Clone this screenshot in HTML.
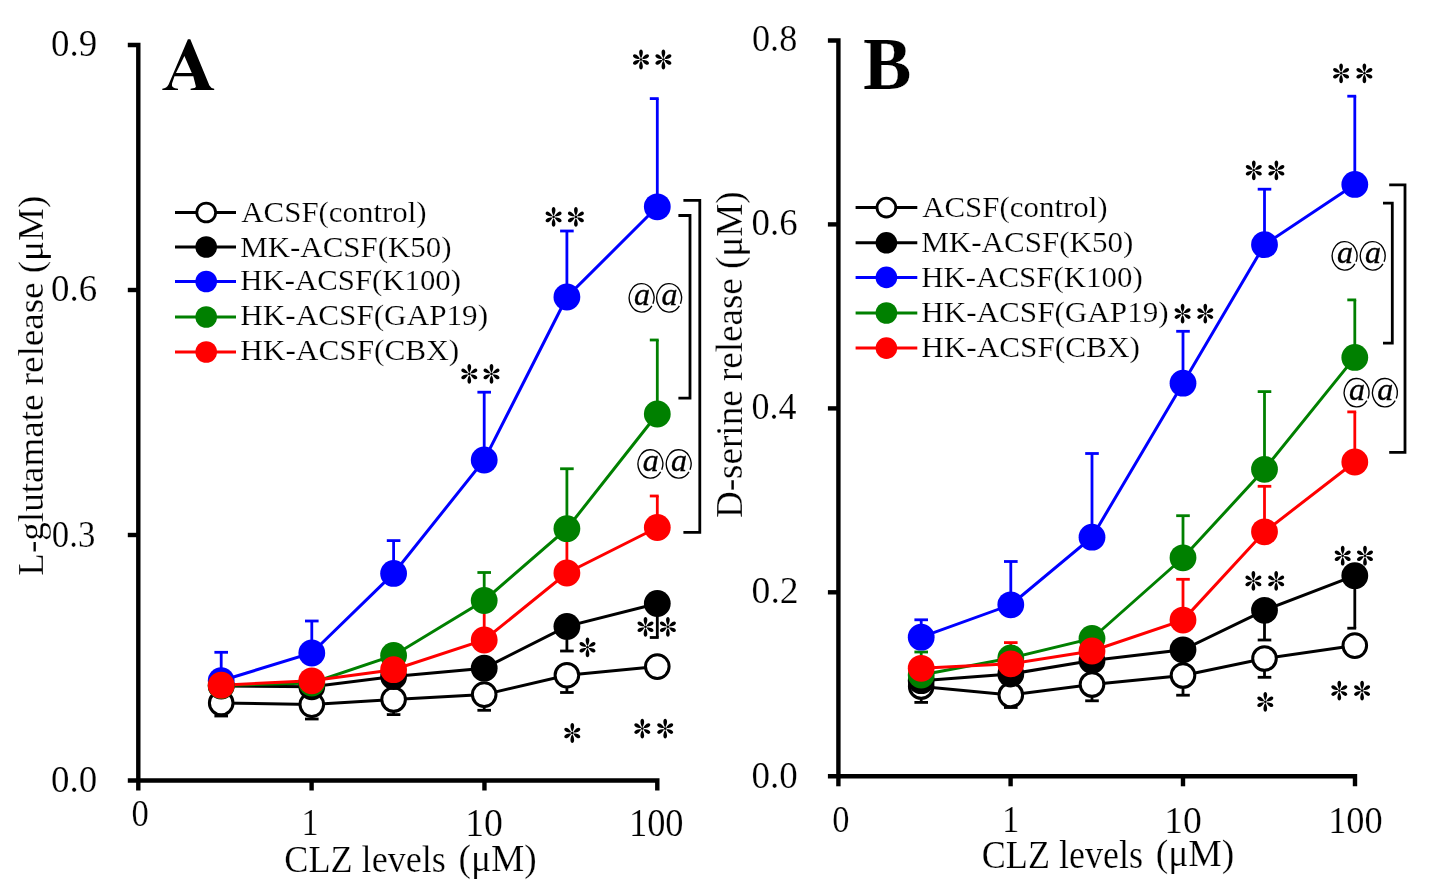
<!DOCTYPE html>
<html><head><meta charset="utf-8"><style>html,body{margin:0;padding:0;background:#fff;overflow:hidden}svg{display:block;will-change:transform}</style></head>
<body><svg width="1435" height="896" viewBox="0 0 1435 896">
<rect width="1435" height="896" fill="#fff"/>
<path d="M127.80000000000001,45 H138.3 V780.5" fill="none" stroke="#000" stroke-width="4.4" stroke-linejoin="miter"/>
<path d="M127.80000000000001,780.5 H657.3 V790.5" fill="none" stroke="#000" stroke-width="4.4"/>
<line x1="127.80000000000001" y1="290" x2="138.3" y2="290" stroke="#000" stroke-width="4.4"/>
<line x1="127.80000000000001" y1="535" x2="138.3" y2="535" stroke="#000" stroke-width="4.4"/>
<line x1="138.3" y1="780.5" x2="138.3" y2="790.5" stroke="#000" stroke-width="4.4"/>
<line x1="311.6" y1="780.5" x2="311.6" y2="790.5" stroke="#000" stroke-width="4.4"/>
<line x1="484.45" y1="780.5" x2="484.45" y2="790.5" stroke="#000" stroke-width="4.4"/>
<line x1="175" y1="212.5" x2="236" y2="212.5" stroke="#000000" stroke-width="3"/>
<circle cx="206.2" cy="212.5" r="9.4" fill="#fff" stroke="#000" stroke-width="2.8"/>
<line x1="175" y1="247" x2="236" y2="247" stroke="#000000" stroke-width="3"/>
<circle cx="206.2" cy="247" r="10.8" fill="#000000"/>
<line x1="175" y1="281.5" x2="236" y2="281.5" stroke="#0000ff" stroke-width="3"/>
<circle cx="206.2" cy="281.5" r="10.8" fill="#0000ff"/>
<line x1="175" y1="317" x2="236" y2="317" stroke="#008000" stroke-width="3"/>
<circle cx="206.2" cy="317" r="10.8" fill="#008000"/>
<line x1="175" y1="352" x2="236" y2="352" stroke="#ff0000" stroke-width="3"/>
<circle cx="206.2" cy="352" r="10.8" fill="#ff0000"/>
<line x1="221.2" y1="703" x2="221.2" y2="716" stroke="#000000" stroke-width="2.8"/>
<line x1="214.39999999999998" y1="716" x2="228.0" y2="716" stroke="#000000" stroke-width="2.8"/>
<line x1="311.8" y1="704.6" x2="311.8" y2="719" stroke="#000000" stroke-width="2.8"/>
<line x1="305.0" y1="719" x2="318.6" y2="719" stroke="#000000" stroke-width="2.8"/>
<line x1="393.6" y1="699.5" x2="393.6" y2="714.6" stroke="#000000" stroke-width="2.8"/>
<line x1="386.8" y1="714.6" x2="400.40000000000003" y2="714.6" stroke="#000000" stroke-width="2.8"/>
<line x1="484.2" y1="694.6" x2="484.2" y2="710.3" stroke="#000000" stroke-width="2.8"/>
<line x1="477.4" y1="710.3" x2="491.0" y2="710.3" stroke="#000000" stroke-width="2.8"/>
<line x1="566.9" y1="675.2" x2="566.9" y2="692.5" stroke="#000000" stroke-width="2.8"/>
<line x1="560.1" y1="692.5" x2="573.6999999999999" y2="692.5" stroke="#000000" stroke-width="2.8"/>
<line x1="566.9" y1="626.4" x2="566.9" y2="651" stroke="#000000" stroke-width="2.8"/>
<line x1="560.1" y1="651" x2="573.6999999999999" y2="651" stroke="#000000" stroke-width="2.8"/>
<line x1="657.3" y1="603.5" x2="657.3" y2="637.5" stroke="#000000" stroke-width="2.8"/>
<line x1="649.8" y1="637.5" x2="658.6999999999999" y2="637.5" stroke="#000000" stroke-width="2.8"/>
<line x1="221.2" y1="680.7" x2="221.2" y2="652.3" stroke="#0000ff" stroke-width="2.8"/>
<line x1="214.39999999999998" y1="652.3" x2="228.0" y2="652.3" stroke="#0000ff" stroke-width="2.8"/>
<line x1="311.8" y1="653" x2="311.8" y2="621" stroke="#0000ff" stroke-width="2.8"/>
<line x1="305.0" y1="621" x2="318.6" y2="621" stroke="#0000ff" stroke-width="2.8"/>
<line x1="393.6" y1="573.4" x2="393.6" y2="540.6" stroke="#0000ff" stroke-width="2.8"/>
<line x1="386.8" y1="540.6" x2="400.40000000000003" y2="540.6" stroke="#0000ff" stroke-width="2.8"/>
<line x1="484.2" y1="460" x2="484.2" y2="392.2" stroke="#0000ff" stroke-width="2.8"/>
<line x1="477.4" y1="392.2" x2="491.0" y2="392.2" stroke="#0000ff" stroke-width="2.8"/>
<line x1="566.9" y1="297" x2="566.9" y2="231" stroke="#0000ff" stroke-width="2.8"/>
<line x1="560.1" y1="231" x2="573.6999999999999" y2="231" stroke="#0000ff" stroke-width="2.8"/>
<line x1="657.3" y1="206.8" x2="657.3" y2="98.6" stroke="#0000ff" stroke-width="2.8"/>
<line x1="649.8" y1="98.6" x2="658.6999999999999" y2="98.6" stroke="#0000ff" stroke-width="2.8"/>
<line x1="484.2" y1="600.5" x2="484.2" y2="572.5" stroke="#008000" stroke-width="2.8"/>
<line x1="477.4" y1="572.5" x2="491.0" y2="572.5" stroke="#008000" stroke-width="2.8"/>
<line x1="566.9" y1="528.7" x2="566.9" y2="468.75" stroke="#008000" stroke-width="2.8"/>
<line x1="560.1" y1="468.75" x2="573.6999999999999" y2="468.75" stroke="#008000" stroke-width="2.8"/>
<line x1="657.3" y1="414" x2="657.3" y2="340" stroke="#008000" stroke-width="2.8"/>
<line x1="649.8" y1="340" x2="658.6999999999999" y2="340" stroke="#008000" stroke-width="2.8"/>
<line x1="484.2" y1="640" x2="484.2" y2="603" stroke="#ff0000" stroke-width="2.8"/>
<line x1="477.4" y1="603" x2="491.0" y2="603" stroke="#ff0000" stroke-width="2.8"/>
<line x1="566.9" y1="573" x2="566.9" y2="531" stroke="#ff0000" stroke-width="2.8"/>
<line x1="560.1" y1="531" x2="573.6999999999999" y2="531" stroke="#ff0000" stroke-width="2.8"/>
<line x1="657.3" y1="527.5" x2="657.3" y2="496" stroke="#ff0000" stroke-width="2.8"/>
<line x1="649.8" y1="496" x2="658.6999999999999" y2="496" stroke="#ff0000" stroke-width="2.8"/>
<polyline points="221.2,703 311.8,704.6 393.6,699.5 484.2,694.6 566.9,675.2 657.3,666.6" fill="none" stroke="#000000" stroke-width="3"/>
<polyline points="221.2,686 311.8,686.8 393.6,676.6 484.2,668.2 566.9,626.4 657.3,603.5" fill="none" stroke="#000000" stroke-width="3"/>
<polyline points="221.2,680.7 311.8,653 393.6,573.4 484.2,460 566.9,297 657.3,206.8" fill="none" stroke="#0000ff" stroke-width="3"/>
<polyline points="221.2,685.5 311.8,683 393.6,655.5 484.2,600.5 566.9,528.7 657.3,414" fill="none" stroke="#008000" stroke-width="3"/>
<polyline points="221.2,685.2 311.8,680.8 393.6,669.7 484.2,640 566.9,573 657.3,527.5" fill="none" stroke="#ff0000" stroke-width="3"/>
<circle cx="221.2" cy="703" r="11.8" fill="#fff" stroke="#000" stroke-width="3"/>
<circle cx="311.8" cy="704.6" r="11.8" fill="#fff" stroke="#000" stroke-width="3"/>
<circle cx="393.6" cy="699.5" r="11.8" fill="#fff" stroke="#000" stroke-width="3"/>
<circle cx="484.2" cy="694.6" r="11.8" fill="#fff" stroke="#000" stroke-width="3"/>
<circle cx="566.9" cy="675.2" r="11.8" fill="#fff" stroke="#000" stroke-width="3"/>
<circle cx="657.3" cy="666.6" r="11.8" fill="#fff" stroke="#000" stroke-width="3"/>
<circle cx="221.2" cy="686" r="13.4" fill="#000000"/>
<circle cx="311.8" cy="686.8" r="13.4" fill="#000000"/>
<circle cx="393.6" cy="676.6" r="13.4" fill="#000000"/>
<circle cx="484.2" cy="668.2" r="13.4" fill="#000000"/>
<circle cx="566.9" cy="626.4" r="13.4" fill="#000000"/>
<circle cx="657.3" cy="603.5" r="13.4" fill="#000000"/>
<circle cx="221.2" cy="680.7" r="13.4" fill="#0000ff"/>
<circle cx="311.8" cy="653" r="13.4" fill="#0000ff"/>
<circle cx="393.6" cy="573.4" r="13.4" fill="#0000ff"/>
<circle cx="484.2" cy="460" r="13.4" fill="#0000ff"/>
<circle cx="566.9" cy="297" r="13.4" fill="#0000ff"/>
<circle cx="657.3" cy="206.8" r="13.4" fill="#0000ff"/>
<circle cx="221.2" cy="685.5" r="13.4" fill="#008000"/>
<circle cx="311.8" cy="683" r="13.4" fill="#008000"/>
<circle cx="393.6" cy="655.5" r="13.4" fill="#008000"/>
<circle cx="484.2" cy="600.5" r="13.4" fill="#008000"/>
<circle cx="566.9" cy="528.7" r="13.4" fill="#008000"/>
<circle cx="657.3" cy="414" r="13.4" fill="#008000"/>
<circle cx="221.2" cy="685.2" r="13.4" fill="#ff0000"/>
<circle cx="311.8" cy="680.8" r="13.4" fill="#ff0000"/>
<circle cx="393.6" cy="669.7" r="13.4" fill="#ff0000"/>
<circle cx="484.2" cy="640" r="13.4" fill="#ff0000"/>
<circle cx="566.9" cy="573" r="13.4" fill="#ff0000"/>
<circle cx="657.3" cy="527.5" r="13.4" fill="#ff0000"/>
<path d="M683.4,200.3 H699.8 V532.3 H683.4" fill="none" stroke="#000" stroke-width="2.8"/>
<path d="M678.4,215.5 H690 V398.2 H678.4" fill="none" stroke="#000" stroke-width="2.8"/>
<g transform="translate(641,59.5)" fill="#000"><path transform="rotate(0)" d="M0,-1.3 C-0.8,-2.3 -1.8,-4.75 -1.85,-6.93 C-1.9,-8.91 -0.9,-9.90 0,-9.90 C0.9,-9.90 1.9,-8.91 1.85,-6.93 C1.8,-4.75 0.8,-2.3 0,-1.3Z"/><path transform="rotate(60)" d="M0,-1.3 C-0.8,-2.3 -1.8,-4.32 -1.85,-6.30 C-1.9,-8.10 -0.9,-9.00 0,-9.00 C0.9,-9.00 1.9,-8.10 1.85,-6.30 C1.8,-4.32 0.8,-2.3 0,-1.3Z"/><path transform="rotate(120)" d="M0,-1.3 C-0.8,-2.3 -1.8,-4.32 -1.85,-6.30 C-1.9,-8.10 -0.9,-9.00 0,-9.00 C0.9,-9.00 1.9,-8.10 1.85,-6.30 C1.8,-4.32 0.8,-2.3 0,-1.3Z"/><path transform="rotate(180)" d="M0,-1.3 C-0.8,-2.3 -1.8,-4.75 -1.85,-6.93 C-1.9,-8.91 -0.9,-9.90 0,-9.90 C0.9,-9.90 1.9,-8.91 1.85,-6.93 C1.8,-4.75 0.8,-2.3 0,-1.3Z"/><path transform="rotate(240)" d="M0,-1.3 C-0.8,-2.3 -1.8,-4.32 -1.85,-6.30 C-1.9,-8.10 -0.9,-9.00 0,-9.00 C0.9,-9.00 1.9,-8.10 1.85,-6.30 C1.8,-4.32 0.8,-2.3 0,-1.3Z"/><path transform="rotate(300)" d="M0,-1.3 C-0.8,-2.3 -1.8,-4.32 -1.85,-6.30 C-1.9,-8.10 -0.9,-9.00 0,-9.00 C0.9,-9.00 1.9,-8.10 1.85,-6.30 C1.8,-4.32 0.8,-2.3 0,-1.3Z"/><circle r="1.3"/></g>
<g transform="translate(663.4,59.5)" fill="#000"><path transform="rotate(0)" d="M0,-1.3 C-0.8,-2.3 -1.8,-4.75 -1.85,-6.93 C-1.9,-8.91 -0.9,-9.90 0,-9.90 C0.9,-9.90 1.9,-8.91 1.85,-6.93 C1.8,-4.75 0.8,-2.3 0,-1.3Z"/><path transform="rotate(60)" d="M0,-1.3 C-0.8,-2.3 -1.8,-4.32 -1.85,-6.30 C-1.9,-8.10 -0.9,-9.00 0,-9.00 C0.9,-9.00 1.9,-8.10 1.85,-6.30 C1.8,-4.32 0.8,-2.3 0,-1.3Z"/><path transform="rotate(120)" d="M0,-1.3 C-0.8,-2.3 -1.8,-4.32 -1.85,-6.30 C-1.9,-8.10 -0.9,-9.00 0,-9.00 C0.9,-9.00 1.9,-8.10 1.85,-6.30 C1.8,-4.32 0.8,-2.3 0,-1.3Z"/><path transform="rotate(180)" d="M0,-1.3 C-0.8,-2.3 -1.8,-4.75 -1.85,-6.93 C-1.9,-8.91 -0.9,-9.90 0,-9.90 C0.9,-9.90 1.9,-8.91 1.85,-6.93 C1.8,-4.75 0.8,-2.3 0,-1.3Z"/><path transform="rotate(240)" d="M0,-1.3 C-0.8,-2.3 -1.8,-4.32 -1.85,-6.30 C-1.9,-8.10 -0.9,-9.00 0,-9.00 C0.9,-9.00 1.9,-8.10 1.85,-6.30 C1.8,-4.32 0.8,-2.3 0,-1.3Z"/><path transform="rotate(300)" d="M0,-1.3 C-0.8,-2.3 -1.8,-4.32 -1.85,-6.30 C-1.9,-8.10 -0.9,-9.00 0,-9.00 C0.9,-9.00 1.9,-8.10 1.85,-6.30 C1.8,-4.32 0.8,-2.3 0,-1.3Z"/><circle r="1.3"/></g>
<g transform="translate(553.6,216.9)" fill="#000"><path transform="rotate(0)" d="M0,-1.3 C-0.8,-2.3 -1.8,-4.75 -1.85,-6.93 C-1.9,-8.91 -0.9,-9.90 0,-9.90 C0.9,-9.90 1.9,-8.91 1.85,-6.93 C1.8,-4.75 0.8,-2.3 0,-1.3Z"/><path transform="rotate(60)" d="M0,-1.3 C-0.8,-2.3 -1.8,-4.32 -1.85,-6.30 C-1.9,-8.10 -0.9,-9.00 0,-9.00 C0.9,-9.00 1.9,-8.10 1.85,-6.30 C1.8,-4.32 0.8,-2.3 0,-1.3Z"/><path transform="rotate(120)" d="M0,-1.3 C-0.8,-2.3 -1.8,-4.32 -1.85,-6.30 C-1.9,-8.10 -0.9,-9.00 0,-9.00 C0.9,-9.00 1.9,-8.10 1.85,-6.30 C1.8,-4.32 0.8,-2.3 0,-1.3Z"/><path transform="rotate(180)" d="M0,-1.3 C-0.8,-2.3 -1.8,-4.75 -1.85,-6.93 C-1.9,-8.91 -0.9,-9.90 0,-9.90 C0.9,-9.90 1.9,-8.91 1.85,-6.93 C1.8,-4.75 0.8,-2.3 0,-1.3Z"/><path transform="rotate(240)" d="M0,-1.3 C-0.8,-2.3 -1.8,-4.32 -1.85,-6.30 C-1.9,-8.10 -0.9,-9.00 0,-9.00 C0.9,-9.00 1.9,-8.10 1.85,-6.30 C1.8,-4.32 0.8,-2.3 0,-1.3Z"/><path transform="rotate(300)" d="M0,-1.3 C-0.8,-2.3 -1.8,-4.32 -1.85,-6.30 C-1.9,-8.10 -0.9,-9.00 0,-9.00 C0.9,-9.00 1.9,-8.10 1.85,-6.30 C1.8,-4.32 0.8,-2.3 0,-1.3Z"/><circle r="1.3"/></g>
<g transform="translate(575.9,216.9)" fill="#000"><path transform="rotate(0)" d="M0,-1.3 C-0.8,-2.3 -1.8,-4.75 -1.85,-6.93 C-1.9,-8.91 -0.9,-9.90 0,-9.90 C0.9,-9.90 1.9,-8.91 1.85,-6.93 C1.8,-4.75 0.8,-2.3 0,-1.3Z"/><path transform="rotate(60)" d="M0,-1.3 C-0.8,-2.3 -1.8,-4.32 -1.85,-6.30 C-1.9,-8.10 -0.9,-9.00 0,-9.00 C0.9,-9.00 1.9,-8.10 1.85,-6.30 C1.8,-4.32 0.8,-2.3 0,-1.3Z"/><path transform="rotate(120)" d="M0,-1.3 C-0.8,-2.3 -1.8,-4.32 -1.85,-6.30 C-1.9,-8.10 -0.9,-9.00 0,-9.00 C0.9,-9.00 1.9,-8.10 1.85,-6.30 C1.8,-4.32 0.8,-2.3 0,-1.3Z"/><path transform="rotate(180)" d="M0,-1.3 C-0.8,-2.3 -1.8,-4.75 -1.85,-6.93 C-1.9,-8.91 -0.9,-9.90 0,-9.90 C0.9,-9.90 1.9,-8.91 1.85,-6.93 C1.8,-4.75 0.8,-2.3 0,-1.3Z"/><path transform="rotate(240)" d="M0,-1.3 C-0.8,-2.3 -1.8,-4.32 -1.85,-6.30 C-1.9,-8.10 -0.9,-9.00 0,-9.00 C0.9,-9.00 1.9,-8.10 1.85,-6.30 C1.8,-4.32 0.8,-2.3 0,-1.3Z"/><path transform="rotate(300)" d="M0,-1.3 C-0.8,-2.3 -1.8,-4.32 -1.85,-6.30 C-1.9,-8.10 -0.9,-9.00 0,-9.00 C0.9,-9.00 1.9,-8.10 1.85,-6.30 C1.8,-4.32 0.8,-2.3 0,-1.3Z"/><circle r="1.3"/></g>
<g transform="translate(469.3,373.9)" fill="#000"><path transform="rotate(0)" d="M0,-1.3 C-0.8,-2.3 -1.8,-4.75 -1.85,-6.93 C-1.9,-8.91 -0.9,-9.90 0,-9.90 C0.9,-9.90 1.9,-8.91 1.85,-6.93 C1.8,-4.75 0.8,-2.3 0,-1.3Z"/><path transform="rotate(60)" d="M0,-1.3 C-0.8,-2.3 -1.8,-4.32 -1.85,-6.30 C-1.9,-8.10 -0.9,-9.00 0,-9.00 C0.9,-9.00 1.9,-8.10 1.85,-6.30 C1.8,-4.32 0.8,-2.3 0,-1.3Z"/><path transform="rotate(120)" d="M0,-1.3 C-0.8,-2.3 -1.8,-4.32 -1.85,-6.30 C-1.9,-8.10 -0.9,-9.00 0,-9.00 C0.9,-9.00 1.9,-8.10 1.85,-6.30 C1.8,-4.32 0.8,-2.3 0,-1.3Z"/><path transform="rotate(180)" d="M0,-1.3 C-0.8,-2.3 -1.8,-4.75 -1.85,-6.93 C-1.9,-8.91 -0.9,-9.90 0,-9.90 C0.9,-9.90 1.9,-8.91 1.85,-6.93 C1.8,-4.75 0.8,-2.3 0,-1.3Z"/><path transform="rotate(240)" d="M0,-1.3 C-0.8,-2.3 -1.8,-4.32 -1.85,-6.30 C-1.9,-8.10 -0.9,-9.00 0,-9.00 C0.9,-9.00 1.9,-8.10 1.85,-6.30 C1.8,-4.32 0.8,-2.3 0,-1.3Z"/><path transform="rotate(300)" d="M0,-1.3 C-0.8,-2.3 -1.8,-4.32 -1.85,-6.30 C-1.9,-8.10 -0.9,-9.00 0,-9.00 C0.9,-9.00 1.9,-8.10 1.85,-6.30 C1.8,-4.32 0.8,-2.3 0,-1.3Z"/><circle r="1.3"/></g>
<g transform="translate(491.5,373.9)" fill="#000"><path transform="rotate(0)" d="M0,-1.3 C-0.8,-2.3 -1.8,-4.75 -1.85,-6.93 C-1.9,-8.91 -0.9,-9.90 0,-9.90 C0.9,-9.90 1.9,-8.91 1.85,-6.93 C1.8,-4.75 0.8,-2.3 0,-1.3Z"/><path transform="rotate(60)" d="M0,-1.3 C-0.8,-2.3 -1.8,-4.32 -1.85,-6.30 C-1.9,-8.10 -0.9,-9.00 0,-9.00 C0.9,-9.00 1.9,-8.10 1.85,-6.30 C1.8,-4.32 0.8,-2.3 0,-1.3Z"/><path transform="rotate(120)" d="M0,-1.3 C-0.8,-2.3 -1.8,-4.32 -1.85,-6.30 C-1.9,-8.10 -0.9,-9.00 0,-9.00 C0.9,-9.00 1.9,-8.10 1.85,-6.30 C1.8,-4.32 0.8,-2.3 0,-1.3Z"/><path transform="rotate(180)" d="M0,-1.3 C-0.8,-2.3 -1.8,-4.75 -1.85,-6.93 C-1.9,-8.91 -0.9,-9.90 0,-9.90 C0.9,-9.90 1.9,-8.91 1.85,-6.93 C1.8,-4.75 0.8,-2.3 0,-1.3Z"/><path transform="rotate(240)" d="M0,-1.3 C-0.8,-2.3 -1.8,-4.32 -1.85,-6.30 C-1.9,-8.10 -0.9,-9.00 0,-9.00 C0.9,-9.00 1.9,-8.10 1.85,-6.30 C1.8,-4.32 0.8,-2.3 0,-1.3Z"/><path transform="rotate(300)" d="M0,-1.3 C-0.8,-2.3 -1.8,-4.32 -1.85,-6.30 C-1.9,-8.10 -0.9,-9.00 0,-9.00 C0.9,-9.00 1.9,-8.10 1.85,-6.30 C1.8,-4.32 0.8,-2.3 0,-1.3Z"/><circle r="1.3"/></g>
<g transform="translate(587.5,647.3)" fill="#000"><path transform="rotate(0)" d="M0,-1.3 C-0.8,-2.3 -1.8,-4.75 -1.85,-6.93 C-1.9,-8.91 -0.9,-9.90 0,-9.90 C0.9,-9.90 1.9,-8.91 1.85,-6.93 C1.8,-4.75 0.8,-2.3 0,-1.3Z"/><path transform="rotate(60)" d="M0,-1.3 C-0.8,-2.3 -1.8,-4.32 -1.85,-6.30 C-1.9,-8.10 -0.9,-9.00 0,-9.00 C0.9,-9.00 1.9,-8.10 1.85,-6.30 C1.8,-4.32 0.8,-2.3 0,-1.3Z"/><path transform="rotate(120)" d="M0,-1.3 C-0.8,-2.3 -1.8,-4.32 -1.85,-6.30 C-1.9,-8.10 -0.9,-9.00 0,-9.00 C0.9,-9.00 1.9,-8.10 1.85,-6.30 C1.8,-4.32 0.8,-2.3 0,-1.3Z"/><path transform="rotate(180)" d="M0,-1.3 C-0.8,-2.3 -1.8,-4.75 -1.85,-6.93 C-1.9,-8.91 -0.9,-9.90 0,-9.90 C0.9,-9.90 1.9,-8.91 1.85,-6.93 C1.8,-4.75 0.8,-2.3 0,-1.3Z"/><path transform="rotate(240)" d="M0,-1.3 C-0.8,-2.3 -1.8,-4.32 -1.85,-6.30 C-1.9,-8.10 -0.9,-9.00 0,-9.00 C0.9,-9.00 1.9,-8.10 1.85,-6.30 C1.8,-4.32 0.8,-2.3 0,-1.3Z"/><path transform="rotate(300)" d="M0,-1.3 C-0.8,-2.3 -1.8,-4.32 -1.85,-6.30 C-1.9,-8.10 -0.9,-9.00 0,-9.00 C0.9,-9.00 1.9,-8.10 1.85,-6.30 C1.8,-4.32 0.8,-2.3 0,-1.3Z"/><circle r="1.3"/></g>
<g transform="translate(572.3,733)" fill="#000"><path transform="rotate(0)" d="M0,-1.3 C-0.8,-2.3 -1.8,-4.75 -1.85,-6.93 C-1.9,-8.91 -0.9,-9.90 0,-9.90 C0.9,-9.90 1.9,-8.91 1.85,-6.93 C1.8,-4.75 0.8,-2.3 0,-1.3Z"/><path transform="rotate(60)" d="M0,-1.3 C-0.8,-2.3 -1.8,-4.32 -1.85,-6.30 C-1.9,-8.10 -0.9,-9.00 0,-9.00 C0.9,-9.00 1.9,-8.10 1.85,-6.30 C1.8,-4.32 0.8,-2.3 0,-1.3Z"/><path transform="rotate(120)" d="M0,-1.3 C-0.8,-2.3 -1.8,-4.32 -1.85,-6.30 C-1.9,-8.10 -0.9,-9.00 0,-9.00 C0.9,-9.00 1.9,-8.10 1.85,-6.30 C1.8,-4.32 0.8,-2.3 0,-1.3Z"/><path transform="rotate(180)" d="M0,-1.3 C-0.8,-2.3 -1.8,-4.75 -1.85,-6.93 C-1.9,-8.91 -0.9,-9.90 0,-9.90 C0.9,-9.90 1.9,-8.91 1.85,-6.93 C1.8,-4.75 0.8,-2.3 0,-1.3Z"/><path transform="rotate(240)" d="M0,-1.3 C-0.8,-2.3 -1.8,-4.32 -1.85,-6.30 C-1.9,-8.10 -0.9,-9.00 0,-9.00 C0.9,-9.00 1.9,-8.10 1.85,-6.30 C1.8,-4.32 0.8,-2.3 0,-1.3Z"/><path transform="rotate(300)" d="M0,-1.3 C-0.8,-2.3 -1.8,-4.32 -1.85,-6.30 C-1.9,-8.10 -0.9,-9.00 0,-9.00 C0.9,-9.00 1.9,-8.10 1.85,-6.30 C1.8,-4.32 0.8,-2.3 0,-1.3Z"/><circle r="1.3"/></g>
<g transform="translate(645.5,626.8)" fill="#000"><path transform="rotate(0)" d="M0,-1.3 C-0.8,-2.3 -1.8,-4.75 -1.85,-6.93 C-1.9,-8.91 -0.9,-9.90 0,-9.90 C0.9,-9.90 1.9,-8.91 1.85,-6.93 C1.8,-4.75 0.8,-2.3 0,-1.3Z"/><path transform="rotate(60)" d="M0,-1.3 C-0.8,-2.3 -1.8,-4.32 -1.85,-6.30 C-1.9,-8.10 -0.9,-9.00 0,-9.00 C0.9,-9.00 1.9,-8.10 1.85,-6.30 C1.8,-4.32 0.8,-2.3 0,-1.3Z"/><path transform="rotate(120)" d="M0,-1.3 C-0.8,-2.3 -1.8,-4.32 -1.85,-6.30 C-1.9,-8.10 -0.9,-9.00 0,-9.00 C0.9,-9.00 1.9,-8.10 1.85,-6.30 C1.8,-4.32 0.8,-2.3 0,-1.3Z"/><path transform="rotate(180)" d="M0,-1.3 C-0.8,-2.3 -1.8,-4.75 -1.85,-6.93 C-1.9,-8.91 -0.9,-9.90 0,-9.90 C0.9,-9.90 1.9,-8.91 1.85,-6.93 C1.8,-4.75 0.8,-2.3 0,-1.3Z"/><path transform="rotate(240)" d="M0,-1.3 C-0.8,-2.3 -1.8,-4.32 -1.85,-6.30 C-1.9,-8.10 -0.9,-9.00 0,-9.00 C0.9,-9.00 1.9,-8.10 1.85,-6.30 C1.8,-4.32 0.8,-2.3 0,-1.3Z"/><path transform="rotate(300)" d="M0,-1.3 C-0.8,-2.3 -1.8,-4.32 -1.85,-6.30 C-1.9,-8.10 -0.9,-9.00 0,-9.00 C0.9,-9.00 1.9,-8.10 1.85,-6.30 C1.8,-4.32 0.8,-2.3 0,-1.3Z"/><circle r="1.3"/></g>
<g transform="translate(667.9,626.8)" fill="#000"><path transform="rotate(0)" d="M0,-1.3 C-0.8,-2.3 -1.8,-4.75 -1.85,-6.93 C-1.9,-8.91 -0.9,-9.90 0,-9.90 C0.9,-9.90 1.9,-8.91 1.85,-6.93 C1.8,-4.75 0.8,-2.3 0,-1.3Z"/><path transform="rotate(60)" d="M0,-1.3 C-0.8,-2.3 -1.8,-4.32 -1.85,-6.30 C-1.9,-8.10 -0.9,-9.00 0,-9.00 C0.9,-9.00 1.9,-8.10 1.85,-6.30 C1.8,-4.32 0.8,-2.3 0,-1.3Z"/><path transform="rotate(120)" d="M0,-1.3 C-0.8,-2.3 -1.8,-4.32 -1.85,-6.30 C-1.9,-8.10 -0.9,-9.00 0,-9.00 C0.9,-9.00 1.9,-8.10 1.85,-6.30 C1.8,-4.32 0.8,-2.3 0,-1.3Z"/><path transform="rotate(180)" d="M0,-1.3 C-0.8,-2.3 -1.8,-4.75 -1.85,-6.93 C-1.9,-8.91 -0.9,-9.90 0,-9.90 C0.9,-9.90 1.9,-8.91 1.85,-6.93 C1.8,-4.75 0.8,-2.3 0,-1.3Z"/><path transform="rotate(240)" d="M0,-1.3 C-0.8,-2.3 -1.8,-4.32 -1.85,-6.30 C-1.9,-8.10 -0.9,-9.00 0,-9.00 C0.9,-9.00 1.9,-8.10 1.85,-6.30 C1.8,-4.32 0.8,-2.3 0,-1.3Z"/><path transform="rotate(300)" d="M0,-1.3 C-0.8,-2.3 -1.8,-4.32 -1.85,-6.30 C-1.9,-8.10 -0.9,-9.00 0,-9.00 C0.9,-9.00 1.9,-8.10 1.85,-6.30 C1.8,-4.32 0.8,-2.3 0,-1.3Z"/><circle r="1.3"/></g>
<g transform="translate(642.3,728.6)" fill="#000"><path transform="rotate(0)" d="M0,-1.3 C-0.8,-2.3 -1.8,-4.75 -1.85,-6.93 C-1.9,-8.91 -0.9,-9.90 0,-9.90 C0.9,-9.90 1.9,-8.91 1.85,-6.93 C1.8,-4.75 0.8,-2.3 0,-1.3Z"/><path transform="rotate(60)" d="M0,-1.3 C-0.8,-2.3 -1.8,-4.32 -1.85,-6.30 C-1.9,-8.10 -0.9,-9.00 0,-9.00 C0.9,-9.00 1.9,-8.10 1.85,-6.30 C1.8,-4.32 0.8,-2.3 0,-1.3Z"/><path transform="rotate(120)" d="M0,-1.3 C-0.8,-2.3 -1.8,-4.32 -1.85,-6.30 C-1.9,-8.10 -0.9,-9.00 0,-9.00 C0.9,-9.00 1.9,-8.10 1.85,-6.30 C1.8,-4.32 0.8,-2.3 0,-1.3Z"/><path transform="rotate(180)" d="M0,-1.3 C-0.8,-2.3 -1.8,-4.75 -1.85,-6.93 C-1.9,-8.91 -0.9,-9.90 0,-9.90 C0.9,-9.90 1.9,-8.91 1.85,-6.93 C1.8,-4.75 0.8,-2.3 0,-1.3Z"/><path transform="rotate(240)" d="M0,-1.3 C-0.8,-2.3 -1.8,-4.32 -1.85,-6.30 C-1.9,-8.10 -0.9,-9.00 0,-9.00 C0.9,-9.00 1.9,-8.10 1.85,-6.30 C1.8,-4.32 0.8,-2.3 0,-1.3Z"/><path transform="rotate(300)" d="M0,-1.3 C-0.8,-2.3 -1.8,-4.32 -1.85,-6.30 C-1.9,-8.10 -0.9,-9.00 0,-9.00 C0.9,-9.00 1.9,-8.10 1.85,-6.30 C1.8,-4.32 0.8,-2.3 0,-1.3Z"/><circle r="1.3"/></g>
<g transform="translate(665.2,728.6)" fill="#000"><path transform="rotate(0)" d="M0,-1.3 C-0.8,-2.3 -1.8,-4.75 -1.85,-6.93 C-1.9,-8.91 -0.9,-9.90 0,-9.90 C0.9,-9.90 1.9,-8.91 1.85,-6.93 C1.8,-4.75 0.8,-2.3 0,-1.3Z"/><path transform="rotate(60)" d="M0,-1.3 C-0.8,-2.3 -1.8,-4.32 -1.85,-6.30 C-1.9,-8.10 -0.9,-9.00 0,-9.00 C0.9,-9.00 1.9,-8.10 1.85,-6.30 C1.8,-4.32 0.8,-2.3 0,-1.3Z"/><path transform="rotate(120)" d="M0,-1.3 C-0.8,-2.3 -1.8,-4.32 -1.85,-6.30 C-1.9,-8.10 -0.9,-9.00 0,-9.00 C0.9,-9.00 1.9,-8.10 1.85,-6.30 C1.8,-4.32 0.8,-2.3 0,-1.3Z"/><path transform="rotate(180)" d="M0,-1.3 C-0.8,-2.3 -1.8,-4.75 -1.85,-6.93 C-1.9,-8.91 -0.9,-9.90 0,-9.90 C0.9,-9.90 1.9,-8.91 1.85,-6.93 C1.8,-4.75 0.8,-2.3 0,-1.3Z"/><path transform="rotate(240)" d="M0,-1.3 C-0.8,-2.3 -1.8,-4.32 -1.85,-6.30 C-1.9,-8.10 -0.9,-9.00 0,-9.00 C0.9,-9.00 1.9,-8.10 1.85,-6.30 C1.8,-4.32 0.8,-2.3 0,-1.3Z"/><path transform="rotate(300)" d="M0,-1.3 C-0.8,-2.3 -1.8,-4.32 -1.85,-6.30 C-1.9,-8.10 -0.9,-9.00 0,-9.00 C0.9,-9.00 1.9,-8.10 1.85,-6.30 C1.8,-4.32 0.8,-2.3 0,-1.3Z"/><circle r="1.3"/></g>
<path d="M651.88,305.84 A12.4,14.2 0 1 1 652.93,303.68" fill="none" stroke="#000" stroke-width="1.35"/>
<text x="641.90" y="305.30" font-family="Liberation Serif" font-style="italic" font-size="32" stroke="#000" stroke-width="0.35" text-anchor="middle">a</text>
<path d="M679.38,305.84 A12.4,14.2 0 1 1 680.43,303.68" fill="none" stroke="#000" stroke-width="1.35"/>
<text x="669.40" y="305.30" font-family="Liberation Serif" font-style="italic" font-size="32" stroke="#000" stroke-width="0.35" text-anchor="middle">a</text>
<path d="M660.68,471.94 A12.4,14.2 0 1 1 661.73,469.78" fill="none" stroke="#000" stroke-width="1.35"/>
<text x="650.70" y="471.40" font-family="Liberation Serif" font-style="italic" font-size="32" stroke="#000" stroke-width="0.35" text-anchor="middle">a</text>
<path d="M688.98,471.94 A12.4,14.2 0 1 1 690.03,469.78" fill="none" stroke="#000" stroke-width="1.35"/>
<text x="679.00" y="471.40" font-family="Liberation Serif" font-style="italic" font-size="32" stroke="#000" stroke-width="0.35" text-anchor="middle">a</text>
<path d="M827.9,40.5 H838.4 V776.3" fill="none" stroke="#000" stroke-width="4.4" stroke-linejoin="miter"/>
<path d="M827.9,776.3 H1355 V786.3" fill="none" stroke="#000" stroke-width="4.4"/>
<line x1="827.9" y1="224.4" x2="838.4" y2="224.4" stroke="#000" stroke-width="4.4"/>
<line x1="827.9" y1="408.4" x2="838.4" y2="408.4" stroke="#000" stroke-width="4.4"/>
<line x1="827.9" y1="592.3" x2="838.4" y2="592.3" stroke="#000" stroke-width="4.4"/>
<line x1="838.4" y1="776.3" x2="838.4" y2="786.3" stroke="#000" stroke-width="4.4"/>
<line x1="1010.6" y1="776.3" x2="1010.6" y2="786.3" stroke="#000" stroke-width="4.4"/>
<line x1="1183" y1="776.3" x2="1183" y2="786.3" stroke="#000" stroke-width="4.4"/>
<line x1="855.6" y1="207.6" x2="917.3" y2="207.6" stroke="#000000" stroke-width="3"/>
<circle cx="886.4" cy="207.6" r="9.4" fill="#fff" stroke="#000" stroke-width="2.8"/>
<line x1="855.6" y1="242.8" x2="917.3" y2="242.8" stroke="#000000" stroke-width="3"/>
<circle cx="886.4" cy="242.8" r="10.8" fill="#000000"/>
<line x1="855.6" y1="277.4" x2="917.3" y2="277.4" stroke="#0000ff" stroke-width="3"/>
<circle cx="886.4" cy="277.4" r="10.8" fill="#0000ff"/>
<line x1="855.6" y1="313" x2="917.3" y2="313" stroke="#008000" stroke-width="3"/>
<circle cx="886.4" cy="313" r="10.8" fill="#008000"/>
<line x1="855.6" y1="348.1" x2="917.3" y2="348.1" stroke="#ff0000" stroke-width="3"/>
<circle cx="886.4" cy="348.1" r="10.8" fill="#ff0000"/>
<line x1="921.2" y1="686.5" x2="921.2" y2="702.4" stroke="#000000" stroke-width="2.8"/>
<line x1="914.4000000000001" y1="702.4" x2="928.0" y2="702.4" stroke="#000000" stroke-width="2.8"/>
<line x1="1010.8" y1="695" x2="1010.8" y2="707.5" stroke="#000000" stroke-width="2.8"/>
<line x1="1004.0" y1="707.5" x2="1017.5999999999999" y2="707.5" stroke="#000000" stroke-width="2.8"/>
<line x1="1092" y1="684.5" x2="1092" y2="700.8" stroke="#000000" stroke-width="2.8"/>
<line x1="1085.2" y1="700.8" x2="1098.8" y2="700.8" stroke="#000000" stroke-width="2.8"/>
<line x1="1183" y1="675.5" x2="1183" y2="695.2" stroke="#000000" stroke-width="2.8"/>
<line x1="1176.2" y1="695.2" x2="1189.8" y2="695.2" stroke="#000000" stroke-width="2.8"/>
<line x1="1264.5" y1="658.5" x2="1264.5" y2="677.3" stroke="#000000" stroke-width="2.8"/>
<line x1="1257.7" y1="677.3" x2="1271.3" y2="677.3" stroke="#000000" stroke-width="2.8"/>
<line x1="1264.5" y1="610.3" x2="1264.5" y2="640" stroke="#000000" stroke-width="2.8"/>
<line x1="1257.7" y1="640" x2="1271.3" y2="640" stroke="#000000" stroke-width="2.8"/>
<line x1="1354.8" y1="575.7" x2="1354.8" y2="628.2" stroke="#000000" stroke-width="2.8"/>
<line x1="1347.3" y1="628.2" x2="1356.2" y2="628.2" stroke="#000000" stroke-width="2.8"/>
<line x1="921.2" y1="637.2" x2="921.2" y2="619.8" stroke="#0000ff" stroke-width="2.8"/>
<line x1="914.4000000000001" y1="619.8" x2="928.0" y2="619.8" stroke="#0000ff" stroke-width="2.8"/>
<line x1="1010.8" y1="604.8" x2="1010.8" y2="561.5" stroke="#0000ff" stroke-width="2.8"/>
<line x1="1004.0" y1="561.5" x2="1017.5999999999999" y2="561.5" stroke="#0000ff" stroke-width="2.8"/>
<line x1="1092" y1="537.2" x2="1092" y2="453.5" stroke="#0000ff" stroke-width="2.8"/>
<line x1="1085.2" y1="453.5" x2="1098.8" y2="453.5" stroke="#0000ff" stroke-width="2.8"/>
<line x1="1183" y1="383.2" x2="1183" y2="331.3" stroke="#0000ff" stroke-width="2.8"/>
<line x1="1176.2" y1="331.3" x2="1189.8" y2="331.3" stroke="#0000ff" stroke-width="2.8"/>
<line x1="1264.5" y1="244.7" x2="1264.5" y2="189.2" stroke="#0000ff" stroke-width="2.8"/>
<line x1="1257.7" y1="189.2" x2="1271.3" y2="189.2" stroke="#0000ff" stroke-width="2.8"/>
<line x1="1354.8" y1="184.4" x2="1354.8" y2="96.2" stroke="#0000ff" stroke-width="2.8"/>
<line x1="1347.3" y1="96.2" x2="1356.2" y2="96.2" stroke="#0000ff" stroke-width="2.8"/>
<line x1="921.2" y1="675" x2="921.2" y2="652" stroke="#008000" stroke-width="2.8"/>
<line x1="914.4000000000001" y1="652" x2="928.0" y2="652" stroke="#008000" stroke-width="2.8"/>
<line x1="1183" y1="557.8" x2="1183" y2="515.7" stroke="#008000" stroke-width="2.8"/>
<line x1="1176.2" y1="515.7" x2="1189.8" y2="515.7" stroke="#008000" stroke-width="2.8"/>
<line x1="1264.5" y1="469.3" x2="1264.5" y2="391.6" stroke="#008000" stroke-width="2.8"/>
<line x1="1257.7" y1="391.6" x2="1271.3" y2="391.6" stroke="#008000" stroke-width="2.8"/>
<line x1="1354.8" y1="357.4" x2="1354.8" y2="299.9" stroke="#008000" stroke-width="2.8"/>
<line x1="1347.3" y1="299.9" x2="1356.2" y2="299.9" stroke="#008000" stroke-width="2.8"/>
<line x1="1010.8" y1="663.8" x2="1010.8" y2="642.6" stroke="#ff0000" stroke-width="2.8"/>
<line x1="1004.0" y1="642.6" x2="1017.5999999999999" y2="642.6" stroke="#ff0000" stroke-width="2.8"/>
<line x1="1183" y1="620.1" x2="1183" y2="579.3" stroke="#ff0000" stroke-width="2.8"/>
<line x1="1176.2" y1="579.3" x2="1189.8" y2="579.3" stroke="#ff0000" stroke-width="2.8"/>
<line x1="1264.5" y1="531.8" x2="1264.5" y2="486.3" stroke="#ff0000" stroke-width="2.8"/>
<line x1="1257.7" y1="486.3" x2="1271.3" y2="486.3" stroke="#ff0000" stroke-width="2.8"/>
<line x1="1354.8" y1="462" x2="1354.8" y2="411.9" stroke="#ff0000" stroke-width="2.8"/>
<line x1="1347.3" y1="411.9" x2="1356.2" y2="411.9" stroke="#ff0000" stroke-width="2.8"/>
<polyline points="921.2,686.5 1010.8,695 1092,684.5 1183,675.5 1264.5,658.5 1354.8,645.6" fill="none" stroke="#000000" stroke-width="3"/>
<polyline points="921.2,680.7 1010.8,674 1092,660.5 1183,649.8 1264.5,610.3 1354.8,575.7" fill="none" stroke="#000000" stroke-width="3"/>
<polyline points="921.2,637.2 1010.8,604.8 1092,537.2 1183,383.2 1264.5,244.7 1354.8,184.4" fill="none" stroke="#0000ff" stroke-width="3"/>
<polyline points="921.2,675 1010.8,658 1092,638.5 1183,557.8 1264.5,469.3 1354.8,357.4" fill="none" stroke="#008000" stroke-width="3"/>
<polyline points="921.2,668.3 1010.8,663.8 1092,651 1183,620.1 1264.5,531.8 1354.8,462" fill="none" stroke="#ff0000" stroke-width="3"/>
<circle cx="921.2" cy="686.5" r="11.8" fill="#fff" stroke="#000" stroke-width="3"/>
<circle cx="1010.8" cy="695" r="11.8" fill="#fff" stroke="#000" stroke-width="3"/>
<circle cx="1092" cy="684.5" r="11.8" fill="#fff" stroke="#000" stroke-width="3"/>
<circle cx="1183" cy="675.5" r="11.8" fill="#fff" stroke="#000" stroke-width="3"/>
<circle cx="1264.5" cy="658.5" r="11.8" fill="#fff" stroke="#000" stroke-width="3"/>
<circle cx="1354.8" cy="645.6" r="11.8" fill="#fff" stroke="#000" stroke-width="3"/>
<circle cx="921.2" cy="680.7" r="13.4" fill="#000000"/>
<circle cx="1010.8" cy="674" r="13.4" fill="#000000"/>
<circle cx="1092" cy="660.5" r="13.4" fill="#000000"/>
<circle cx="1183" cy="649.8" r="13.4" fill="#000000"/>
<circle cx="1264.5" cy="610.3" r="13.4" fill="#000000"/>
<circle cx="1354.8" cy="575.7" r="13.4" fill="#000000"/>
<circle cx="921.2" cy="637.2" r="13.4" fill="#0000ff"/>
<circle cx="1010.8" cy="604.8" r="13.4" fill="#0000ff"/>
<circle cx="1092" cy="537.2" r="13.4" fill="#0000ff"/>
<circle cx="1183" cy="383.2" r="13.4" fill="#0000ff"/>
<circle cx="1264.5" cy="244.7" r="13.4" fill="#0000ff"/>
<circle cx="1354.8" cy="184.4" r="13.4" fill="#0000ff"/>
<circle cx="921.2" cy="675" r="13.4" fill="#008000"/>
<circle cx="1010.8" cy="658" r="13.4" fill="#008000"/>
<circle cx="1092" cy="638.5" r="13.4" fill="#008000"/>
<circle cx="1183" cy="557.8" r="13.4" fill="#008000"/>
<circle cx="1264.5" cy="469.3" r="13.4" fill="#008000"/>
<circle cx="1354.8" cy="357.4" r="13.4" fill="#008000"/>
<circle cx="921.2" cy="668.3" r="13.4" fill="#ff0000"/>
<circle cx="1010.8" cy="663.8" r="13.4" fill="#ff0000"/>
<circle cx="1092" cy="651" r="13.4" fill="#ff0000"/>
<circle cx="1183" cy="620.1" r="13.4" fill="#ff0000"/>
<circle cx="1264.5" cy="531.8" r="13.4" fill="#ff0000"/>
<circle cx="1354.8" cy="462" r="13.4" fill="#ff0000"/>
<path d="M1389.2,184.8 H1405 V452.3 H1389.2" fill="none" stroke="#000" stroke-width="2.8"/>
<path d="M1383,203.2 H1392.3 V343.2 H1383" fill="none" stroke="#000" stroke-width="2.8"/>
<g transform="translate(1341.1,73.3)" fill="#000"><path transform="rotate(0)" d="M0,-1.3 C-0.8,-2.3 -1.8,-4.75 -1.85,-6.93 C-1.9,-8.91 -0.9,-9.90 0,-9.90 C0.9,-9.90 1.9,-8.91 1.85,-6.93 C1.8,-4.75 0.8,-2.3 0,-1.3Z"/><path transform="rotate(60)" d="M0,-1.3 C-0.8,-2.3 -1.8,-4.32 -1.85,-6.30 C-1.9,-8.10 -0.9,-9.00 0,-9.00 C0.9,-9.00 1.9,-8.10 1.85,-6.30 C1.8,-4.32 0.8,-2.3 0,-1.3Z"/><path transform="rotate(120)" d="M0,-1.3 C-0.8,-2.3 -1.8,-4.32 -1.85,-6.30 C-1.9,-8.10 -0.9,-9.00 0,-9.00 C0.9,-9.00 1.9,-8.10 1.85,-6.30 C1.8,-4.32 0.8,-2.3 0,-1.3Z"/><path transform="rotate(180)" d="M0,-1.3 C-0.8,-2.3 -1.8,-4.75 -1.85,-6.93 C-1.9,-8.91 -0.9,-9.90 0,-9.90 C0.9,-9.90 1.9,-8.91 1.85,-6.93 C1.8,-4.75 0.8,-2.3 0,-1.3Z"/><path transform="rotate(240)" d="M0,-1.3 C-0.8,-2.3 -1.8,-4.32 -1.85,-6.30 C-1.9,-8.10 -0.9,-9.00 0,-9.00 C0.9,-9.00 1.9,-8.10 1.85,-6.30 C1.8,-4.32 0.8,-2.3 0,-1.3Z"/><path transform="rotate(300)" d="M0,-1.3 C-0.8,-2.3 -1.8,-4.32 -1.85,-6.30 C-1.9,-8.10 -0.9,-9.00 0,-9.00 C0.9,-9.00 1.9,-8.10 1.85,-6.30 C1.8,-4.32 0.8,-2.3 0,-1.3Z"/><circle r="1.3"/></g>
<g transform="translate(1364.4,73.3)" fill="#000"><path transform="rotate(0)" d="M0,-1.3 C-0.8,-2.3 -1.8,-4.75 -1.85,-6.93 C-1.9,-8.91 -0.9,-9.90 0,-9.90 C0.9,-9.90 1.9,-8.91 1.85,-6.93 C1.8,-4.75 0.8,-2.3 0,-1.3Z"/><path transform="rotate(60)" d="M0,-1.3 C-0.8,-2.3 -1.8,-4.32 -1.85,-6.30 C-1.9,-8.10 -0.9,-9.00 0,-9.00 C0.9,-9.00 1.9,-8.10 1.85,-6.30 C1.8,-4.32 0.8,-2.3 0,-1.3Z"/><path transform="rotate(120)" d="M0,-1.3 C-0.8,-2.3 -1.8,-4.32 -1.85,-6.30 C-1.9,-8.10 -0.9,-9.00 0,-9.00 C0.9,-9.00 1.9,-8.10 1.85,-6.30 C1.8,-4.32 0.8,-2.3 0,-1.3Z"/><path transform="rotate(180)" d="M0,-1.3 C-0.8,-2.3 -1.8,-4.75 -1.85,-6.93 C-1.9,-8.91 -0.9,-9.90 0,-9.90 C0.9,-9.90 1.9,-8.91 1.85,-6.93 C1.8,-4.75 0.8,-2.3 0,-1.3Z"/><path transform="rotate(240)" d="M0,-1.3 C-0.8,-2.3 -1.8,-4.32 -1.85,-6.30 C-1.9,-8.10 -0.9,-9.00 0,-9.00 C0.9,-9.00 1.9,-8.10 1.85,-6.30 C1.8,-4.32 0.8,-2.3 0,-1.3Z"/><path transform="rotate(300)" d="M0,-1.3 C-0.8,-2.3 -1.8,-4.32 -1.85,-6.30 C-1.9,-8.10 -0.9,-9.00 0,-9.00 C0.9,-9.00 1.9,-8.10 1.85,-6.30 C1.8,-4.32 0.8,-2.3 0,-1.3Z"/><circle r="1.3"/></g>
<g transform="translate(1253.8,170.3)" fill="#000"><path transform="rotate(0)" d="M0,-1.3 C-0.8,-2.3 -1.8,-4.75 -1.85,-6.93 C-1.9,-8.91 -0.9,-9.90 0,-9.90 C0.9,-9.90 1.9,-8.91 1.85,-6.93 C1.8,-4.75 0.8,-2.3 0,-1.3Z"/><path transform="rotate(60)" d="M0,-1.3 C-0.8,-2.3 -1.8,-4.32 -1.85,-6.30 C-1.9,-8.10 -0.9,-9.00 0,-9.00 C0.9,-9.00 1.9,-8.10 1.85,-6.30 C1.8,-4.32 0.8,-2.3 0,-1.3Z"/><path transform="rotate(120)" d="M0,-1.3 C-0.8,-2.3 -1.8,-4.32 -1.85,-6.30 C-1.9,-8.10 -0.9,-9.00 0,-9.00 C0.9,-9.00 1.9,-8.10 1.85,-6.30 C1.8,-4.32 0.8,-2.3 0,-1.3Z"/><path transform="rotate(180)" d="M0,-1.3 C-0.8,-2.3 -1.8,-4.75 -1.85,-6.93 C-1.9,-8.91 -0.9,-9.90 0,-9.90 C0.9,-9.90 1.9,-8.91 1.85,-6.93 C1.8,-4.75 0.8,-2.3 0,-1.3Z"/><path transform="rotate(240)" d="M0,-1.3 C-0.8,-2.3 -1.8,-4.32 -1.85,-6.30 C-1.9,-8.10 -0.9,-9.00 0,-9.00 C0.9,-9.00 1.9,-8.10 1.85,-6.30 C1.8,-4.32 0.8,-2.3 0,-1.3Z"/><path transform="rotate(300)" d="M0,-1.3 C-0.8,-2.3 -1.8,-4.32 -1.85,-6.30 C-1.9,-8.10 -0.9,-9.00 0,-9.00 C0.9,-9.00 1.9,-8.10 1.85,-6.30 C1.8,-4.32 0.8,-2.3 0,-1.3Z"/><circle r="1.3"/></g>
<g transform="translate(1276.4,170.3)" fill="#000"><path transform="rotate(0)" d="M0,-1.3 C-0.8,-2.3 -1.8,-4.75 -1.85,-6.93 C-1.9,-8.91 -0.9,-9.90 0,-9.90 C0.9,-9.90 1.9,-8.91 1.85,-6.93 C1.8,-4.75 0.8,-2.3 0,-1.3Z"/><path transform="rotate(60)" d="M0,-1.3 C-0.8,-2.3 -1.8,-4.32 -1.85,-6.30 C-1.9,-8.10 -0.9,-9.00 0,-9.00 C0.9,-9.00 1.9,-8.10 1.85,-6.30 C1.8,-4.32 0.8,-2.3 0,-1.3Z"/><path transform="rotate(120)" d="M0,-1.3 C-0.8,-2.3 -1.8,-4.32 -1.85,-6.30 C-1.9,-8.10 -0.9,-9.00 0,-9.00 C0.9,-9.00 1.9,-8.10 1.85,-6.30 C1.8,-4.32 0.8,-2.3 0,-1.3Z"/><path transform="rotate(180)" d="M0,-1.3 C-0.8,-2.3 -1.8,-4.75 -1.85,-6.93 C-1.9,-8.91 -0.9,-9.90 0,-9.90 C0.9,-9.90 1.9,-8.91 1.85,-6.93 C1.8,-4.75 0.8,-2.3 0,-1.3Z"/><path transform="rotate(240)" d="M0,-1.3 C-0.8,-2.3 -1.8,-4.32 -1.85,-6.30 C-1.9,-8.10 -0.9,-9.00 0,-9.00 C0.9,-9.00 1.9,-8.10 1.85,-6.30 C1.8,-4.32 0.8,-2.3 0,-1.3Z"/><path transform="rotate(300)" d="M0,-1.3 C-0.8,-2.3 -1.8,-4.32 -1.85,-6.30 C-1.9,-8.10 -0.9,-9.00 0,-9.00 C0.9,-9.00 1.9,-8.10 1.85,-6.30 C1.8,-4.32 0.8,-2.3 0,-1.3Z"/><circle r="1.3"/></g>
<g transform="translate(1182.6,313.6)" fill="#000"><path transform="rotate(0)" d="M0,-1.3 C-0.8,-2.3 -1.8,-4.75 -1.85,-6.93 C-1.9,-8.91 -0.9,-9.90 0,-9.90 C0.9,-9.90 1.9,-8.91 1.85,-6.93 C1.8,-4.75 0.8,-2.3 0,-1.3Z"/><path transform="rotate(60)" d="M0,-1.3 C-0.8,-2.3 -1.8,-4.32 -1.85,-6.30 C-1.9,-8.10 -0.9,-9.00 0,-9.00 C0.9,-9.00 1.9,-8.10 1.85,-6.30 C1.8,-4.32 0.8,-2.3 0,-1.3Z"/><path transform="rotate(120)" d="M0,-1.3 C-0.8,-2.3 -1.8,-4.32 -1.85,-6.30 C-1.9,-8.10 -0.9,-9.00 0,-9.00 C0.9,-9.00 1.9,-8.10 1.85,-6.30 C1.8,-4.32 0.8,-2.3 0,-1.3Z"/><path transform="rotate(180)" d="M0,-1.3 C-0.8,-2.3 -1.8,-4.75 -1.85,-6.93 C-1.9,-8.91 -0.9,-9.90 0,-9.90 C0.9,-9.90 1.9,-8.91 1.85,-6.93 C1.8,-4.75 0.8,-2.3 0,-1.3Z"/><path transform="rotate(240)" d="M0,-1.3 C-0.8,-2.3 -1.8,-4.32 -1.85,-6.30 C-1.9,-8.10 -0.9,-9.00 0,-9.00 C0.9,-9.00 1.9,-8.10 1.85,-6.30 C1.8,-4.32 0.8,-2.3 0,-1.3Z"/><path transform="rotate(300)" d="M0,-1.3 C-0.8,-2.3 -1.8,-4.32 -1.85,-6.30 C-1.9,-8.10 -0.9,-9.00 0,-9.00 C0.9,-9.00 1.9,-8.10 1.85,-6.30 C1.8,-4.32 0.8,-2.3 0,-1.3Z"/><circle r="1.3"/></g>
<g transform="translate(1205.3,313.6)" fill="#000"><path transform="rotate(0)" d="M0,-1.3 C-0.8,-2.3 -1.8,-4.75 -1.85,-6.93 C-1.9,-8.91 -0.9,-9.90 0,-9.90 C0.9,-9.90 1.9,-8.91 1.85,-6.93 C1.8,-4.75 0.8,-2.3 0,-1.3Z"/><path transform="rotate(60)" d="M0,-1.3 C-0.8,-2.3 -1.8,-4.32 -1.85,-6.30 C-1.9,-8.10 -0.9,-9.00 0,-9.00 C0.9,-9.00 1.9,-8.10 1.85,-6.30 C1.8,-4.32 0.8,-2.3 0,-1.3Z"/><path transform="rotate(120)" d="M0,-1.3 C-0.8,-2.3 -1.8,-4.32 -1.85,-6.30 C-1.9,-8.10 -0.9,-9.00 0,-9.00 C0.9,-9.00 1.9,-8.10 1.85,-6.30 C1.8,-4.32 0.8,-2.3 0,-1.3Z"/><path transform="rotate(180)" d="M0,-1.3 C-0.8,-2.3 -1.8,-4.75 -1.85,-6.93 C-1.9,-8.91 -0.9,-9.90 0,-9.90 C0.9,-9.90 1.9,-8.91 1.85,-6.93 C1.8,-4.75 0.8,-2.3 0,-1.3Z"/><path transform="rotate(240)" d="M0,-1.3 C-0.8,-2.3 -1.8,-4.32 -1.85,-6.30 C-1.9,-8.10 -0.9,-9.00 0,-9.00 C0.9,-9.00 1.9,-8.10 1.85,-6.30 C1.8,-4.32 0.8,-2.3 0,-1.3Z"/><path transform="rotate(300)" d="M0,-1.3 C-0.8,-2.3 -1.8,-4.32 -1.85,-6.30 C-1.9,-8.10 -0.9,-9.00 0,-9.00 C0.9,-9.00 1.9,-8.10 1.85,-6.30 C1.8,-4.32 0.8,-2.3 0,-1.3Z"/><circle r="1.3"/></g>
<g transform="translate(1253.4,580.9)" fill="#000"><path transform="rotate(0)" d="M0,-1.3 C-0.8,-2.3 -1.8,-4.75 -1.85,-6.93 C-1.9,-8.91 -0.9,-9.90 0,-9.90 C0.9,-9.90 1.9,-8.91 1.85,-6.93 C1.8,-4.75 0.8,-2.3 0,-1.3Z"/><path transform="rotate(60)" d="M0,-1.3 C-0.8,-2.3 -1.8,-4.32 -1.85,-6.30 C-1.9,-8.10 -0.9,-9.00 0,-9.00 C0.9,-9.00 1.9,-8.10 1.85,-6.30 C1.8,-4.32 0.8,-2.3 0,-1.3Z"/><path transform="rotate(120)" d="M0,-1.3 C-0.8,-2.3 -1.8,-4.32 -1.85,-6.30 C-1.9,-8.10 -0.9,-9.00 0,-9.00 C0.9,-9.00 1.9,-8.10 1.85,-6.30 C1.8,-4.32 0.8,-2.3 0,-1.3Z"/><path transform="rotate(180)" d="M0,-1.3 C-0.8,-2.3 -1.8,-4.75 -1.85,-6.93 C-1.9,-8.91 -0.9,-9.90 0,-9.90 C0.9,-9.90 1.9,-8.91 1.85,-6.93 C1.8,-4.75 0.8,-2.3 0,-1.3Z"/><path transform="rotate(240)" d="M0,-1.3 C-0.8,-2.3 -1.8,-4.32 -1.85,-6.30 C-1.9,-8.10 -0.9,-9.00 0,-9.00 C0.9,-9.00 1.9,-8.10 1.85,-6.30 C1.8,-4.32 0.8,-2.3 0,-1.3Z"/><path transform="rotate(300)" d="M0,-1.3 C-0.8,-2.3 -1.8,-4.32 -1.85,-6.30 C-1.9,-8.10 -0.9,-9.00 0,-9.00 C0.9,-9.00 1.9,-8.10 1.85,-6.30 C1.8,-4.32 0.8,-2.3 0,-1.3Z"/><circle r="1.3"/></g>
<g transform="translate(1276.2,580.9)" fill="#000"><path transform="rotate(0)" d="M0,-1.3 C-0.8,-2.3 -1.8,-4.75 -1.85,-6.93 C-1.9,-8.91 -0.9,-9.90 0,-9.90 C0.9,-9.90 1.9,-8.91 1.85,-6.93 C1.8,-4.75 0.8,-2.3 0,-1.3Z"/><path transform="rotate(60)" d="M0,-1.3 C-0.8,-2.3 -1.8,-4.32 -1.85,-6.30 C-1.9,-8.10 -0.9,-9.00 0,-9.00 C0.9,-9.00 1.9,-8.10 1.85,-6.30 C1.8,-4.32 0.8,-2.3 0,-1.3Z"/><path transform="rotate(120)" d="M0,-1.3 C-0.8,-2.3 -1.8,-4.32 -1.85,-6.30 C-1.9,-8.10 -0.9,-9.00 0,-9.00 C0.9,-9.00 1.9,-8.10 1.85,-6.30 C1.8,-4.32 0.8,-2.3 0,-1.3Z"/><path transform="rotate(180)" d="M0,-1.3 C-0.8,-2.3 -1.8,-4.75 -1.85,-6.93 C-1.9,-8.91 -0.9,-9.90 0,-9.90 C0.9,-9.90 1.9,-8.91 1.85,-6.93 C1.8,-4.75 0.8,-2.3 0,-1.3Z"/><path transform="rotate(240)" d="M0,-1.3 C-0.8,-2.3 -1.8,-4.32 -1.85,-6.30 C-1.9,-8.10 -0.9,-9.00 0,-9.00 C0.9,-9.00 1.9,-8.10 1.85,-6.30 C1.8,-4.32 0.8,-2.3 0,-1.3Z"/><path transform="rotate(300)" d="M0,-1.3 C-0.8,-2.3 -1.8,-4.32 -1.85,-6.30 C-1.9,-8.10 -0.9,-9.00 0,-9.00 C0.9,-9.00 1.9,-8.10 1.85,-6.30 C1.8,-4.32 0.8,-2.3 0,-1.3Z"/><circle r="1.3"/></g>
<g transform="translate(1265.3,701.8)" fill="#000"><path transform="rotate(0)" d="M0,-1.3 C-0.8,-2.3 -1.8,-4.75 -1.85,-6.93 C-1.9,-8.91 -0.9,-9.90 0,-9.90 C0.9,-9.90 1.9,-8.91 1.85,-6.93 C1.8,-4.75 0.8,-2.3 0,-1.3Z"/><path transform="rotate(60)" d="M0,-1.3 C-0.8,-2.3 -1.8,-4.32 -1.85,-6.30 C-1.9,-8.10 -0.9,-9.00 0,-9.00 C0.9,-9.00 1.9,-8.10 1.85,-6.30 C1.8,-4.32 0.8,-2.3 0,-1.3Z"/><path transform="rotate(120)" d="M0,-1.3 C-0.8,-2.3 -1.8,-4.32 -1.85,-6.30 C-1.9,-8.10 -0.9,-9.00 0,-9.00 C0.9,-9.00 1.9,-8.10 1.85,-6.30 C1.8,-4.32 0.8,-2.3 0,-1.3Z"/><path transform="rotate(180)" d="M0,-1.3 C-0.8,-2.3 -1.8,-4.75 -1.85,-6.93 C-1.9,-8.91 -0.9,-9.90 0,-9.90 C0.9,-9.90 1.9,-8.91 1.85,-6.93 C1.8,-4.75 0.8,-2.3 0,-1.3Z"/><path transform="rotate(240)" d="M0,-1.3 C-0.8,-2.3 -1.8,-4.32 -1.85,-6.30 C-1.9,-8.10 -0.9,-9.00 0,-9.00 C0.9,-9.00 1.9,-8.10 1.85,-6.30 C1.8,-4.32 0.8,-2.3 0,-1.3Z"/><path transform="rotate(300)" d="M0,-1.3 C-0.8,-2.3 -1.8,-4.32 -1.85,-6.30 C-1.9,-8.10 -0.9,-9.00 0,-9.00 C0.9,-9.00 1.9,-8.10 1.85,-6.30 C1.8,-4.32 0.8,-2.3 0,-1.3Z"/><circle r="1.3"/></g>
<g transform="translate(1342.7,555.7)" fill="#000"><path transform="rotate(0)" d="M0,-1.3 C-0.8,-2.3 -1.8,-4.75 -1.85,-6.93 C-1.9,-8.91 -0.9,-9.90 0,-9.90 C0.9,-9.90 1.9,-8.91 1.85,-6.93 C1.8,-4.75 0.8,-2.3 0,-1.3Z"/><path transform="rotate(60)" d="M0,-1.3 C-0.8,-2.3 -1.8,-4.32 -1.85,-6.30 C-1.9,-8.10 -0.9,-9.00 0,-9.00 C0.9,-9.00 1.9,-8.10 1.85,-6.30 C1.8,-4.32 0.8,-2.3 0,-1.3Z"/><path transform="rotate(120)" d="M0,-1.3 C-0.8,-2.3 -1.8,-4.32 -1.85,-6.30 C-1.9,-8.10 -0.9,-9.00 0,-9.00 C0.9,-9.00 1.9,-8.10 1.85,-6.30 C1.8,-4.32 0.8,-2.3 0,-1.3Z"/><path transform="rotate(180)" d="M0,-1.3 C-0.8,-2.3 -1.8,-4.75 -1.85,-6.93 C-1.9,-8.91 -0.9,-9.90 0,-9.90 C0.9,-9.90 1.9,-8.91 1.85,-6.93 C1.8,-4.75 0.8,-2.3 0,-1.3Z"/><path transform="rotate(240)" d="M0,-1.3 C-0.8,-2.3 -1.8,-4.32 -1.85,-6.30 C-1.9,-8.10 -0.9,-9.00 0,-9.00 C0.9,-9.00 1.9,-8.10 1.85,-6.30 C1.8,-4.32 0.8,-2.3 0,-1.3Z"/><path transform="rotate(300)" d="M0,-1.3 C-0.8,-2.3 -1.8,-4.32 -1.85,-6.30 C-1.9,-8.10 -0.9,-9.00 0,-9.00 C0.9,-9.00 1.9,-8.10 1.85,-6.30 C1.8,-4.32 0.8,-2.3 0,-1.3Z"/><circle r="1.3"/></g>
<g transform="translate(1365,555.7)" fill="#000"><path transform="rotate(0)" d="M0,-1.3 C-0.8,-2.3 -1.8,-4.75 -1.85,-6.93 C-1.9,-8.91 -0.9,-9.90 0,-9.90 C0.9,-9.90 1.9,-8.91 1.85,-6.93 C1.8,-4.75 0.8,-2.3 0,-1.3Z"/><path transform="rotate(60)" d="M0,-1.3 C-0.8,-2.3 -1.8,-4.32 -1.85,-6.30 C-1.9,-8.10 -0.9,-9.00 0,-9.00 C0.9,-9.00 1.9,-8.10 1.85,-6.30 C1.8,-4.32 0.8,-2.3 0,-1.3Z"/><path transform="rotate(120)" d="M0,-1.3 C-0.8,-2.3 -1.8,-4.32 -1.85,-6.30 C-1.9,-8.10 -0.9,-9.00 0,-9.00 C0.9,-9.00 1.9,-8.10 1.85,-6.30 C1.8,-4.32 0.8,-2.3 0,-1.3Z"/><path transform="rotate(180)" d="M0,-1.3 C-0.8,-2.3 -1.8,-4.75 -1.85,-6.93 C-1.9,-8.91 -0.9,-9.90 0,-9.90 C0.9,-9.90 1.9,-8.91 1.85,-6.93 C1.8,-4.75 0.8,-2.3 0,-1.3Z"/><path transform="rotate(240)" d="M0,-1.3 C-0.8,-2.3 -1.8,-4.32 -1.85,-6.30 C-1.9,-8.10 -0.9,-9.00 0,-9.00 C0.9,-9.00 1.9,-8.10 1.85,-6.30 C1.8,-4.32 0.8,-2.3 0,-1.3Z"/><path transform="rotate(300)" d="M0,-1.3 C-0.8,-2.3 -1.8,-4.32 -1.85,-6.30 C-1.9,-8.10 -0.9,-9.00 0,-9.00 C0.9,-9.00 1.9,-8.10 1.85,-6.30 C1.8,-4.32 0.8,-2.3 0,-1.3Z"/><circle r="1.3"/></g>
<g transform="translate(1339.3,690.6)" fill="#000"><path transform="rotate(0)" d="M0,-1.3 C-0.8,-2.3 -1.8,-4.75 -1.85,-6.93 C-1.9,-8.91 -0.9,-9.90 0,-9.90 C0.9,-9.90 1.9,-8.91 1.85,-6.93 C1.8,-4.75 0.8,-2.3 0,-1.3Z"/><path transform="rotate(60)" d="M0,-1.3 C-0.8,-2.3 -1.8,-4.32 -1.85,-6.30 C-1.9,-8.10 -0.9,-9.00 0,-9.00 C0.9,-9.00 1.9,-8.10 1.85,-6.30 C1.8,-4.32 0.8,-2.3 0,-1.3Z"/><path transform="rotate(120)" d="M0,-1.3 C-0.8,-2.3 -1.8,-4.32 -1.85,-6.30 C-1.9,-8.10 -0.9,-9.00 0,-9.00 C0.9,-9.00 1.9,-8.10 1.85,-6.30 C1.8,-4.32 0.8,-2.3 0,-1.3Z"/><path transform="rotate(180)" d="M0,-1.3 C-0.8,-2.3 -1.8,-4.75 -1.85,-6.93 C-1.9,-8.91 -0.9,-9.90 0,-9.90 C0.9,-9.90 1.9,-8.91 1.85,-6.93 C1.8,-4.75 0.8,-2.3 0,-1.3Z"/><path transform="rotate(240)" d="M0,-1.3 C-0.8,-2.3 -1.8,-4.32 -1.85,-6.30 C-1.9,-8.10 -0.9,-9.00 0,-9.00 C0.9,-9.00 1.9,-8.10 1.85,-6.30 C1.8,-4.32 0.8,-2.3 0,-1.3Z"/><path transform="rotate(300)" d="M0,-1.3 C-0.8,-2.3 -1.8,-4.32 -1.85,-6.30 C-1.9,-8.10 -0.9,-9.00 0,-9.00 C0.9,-9.00 1.9,-8.10 1.85,-6.30 C1.8,-4.32 0.8,-2.3 0,-1.3Z"/><circle r="1.3"/></g>
<g transform="translate(1362.1,690.6)" fill="#000"><path transform="rotate(0)" d="M0,-1.3 C-0.8,-2.3 -1.8,-4.75 -1.85,-6.93 C-1.9,-8.91 -0.9,-9.90 0,-9.90 C0.9,-9.90 1.9,-8.91 1.85,-6.93 C1.8,-4.75 0.8,-2.3 0,-1.3Z"/><path transform="rotate(60)" d="M0,-1.3 C-0.8,-2.3 -1.8,-4.32 -1.85,-6.30 C-1.9,-8.10 -0.9,-9.00 0,-9.00 C0.9,-9.00 1.9,-8.10 1.85,-6.30 C1.8,-4.32 0.8,-2.3 0,-1.3Z"/><path transform="rotate(120)" d="M0,-1.3 C-0.8,-2.3 -1.8,-4.32 -1.85,-6.30 C-1.9,-8.10 -0.9,-9.00 0,-9.00 C0.9,-9.00 1.9,-8.10 1.85,-6.30 C1.8,-4.32 0.8,-2.3 0,-1.3Z"/><path transform="rotate(180)" d="M0,-1.3 C-0.8,-2.3 -1.8,-4.75 -1.85,-6.93 C-1.9,-8.91 -0.9,-9.90 0,-9.90 C0.9,-9.90 1.9,-8.91 1.85,-6.93 C1.8,-4.75 0.8,-2.3 0,-1.3Z"/><path transform="rotate(240)" d="M0,-1.3 C-0.8,-2.3 -1.8,-4.32 -1.85,-6.30 C-1.9,-8.10 -0.9,-9.00 0,-9.00 C0.9,-9.00 1.9,-8.10 1.85,-6.30 C1.8,-4.32 0.8,-2.3 0,-1.3Z"/><path transform="rotate(300)" d="M0,-1.3 C-0.8,-2.3 -1.8,-4.32 -1.85,-6.30 C-1.9,-8.10 -0.9,-9.00 0,-9.00 C0.9,-9.00 1.9,-8.10 1.85,-6.30 C1.8,-4.32 0.8,-2.3 0,-1.3Z"/><circle r="1.3"/></g>
<path d="M1354.88,263.84 A12.4,14.2 0 1 1 1355.93,261.68" fill="none" stroke="#000" stroke-width="1.35"/>
<text x="1344.90" y="263.30" font-family="Liberation Serif" font-style="italic" font-size="32" stroke="#000" stroke-width="0.35" text-anchor="middle">a</text>
<path d="M1382.98,263.84 A12.4,14.2 0 1 1 1384.03,261.68" fill="none" stroke="#000" stroke-width="1.35"/>
<text x="1373.00" y="263.30" font-family="Liberation Serif" font-style="italic" font-size="32" stroke="#000" stroke-width="0.35" text-anchor="middle">a</text>
<path d="M1366.88,400.64 A12.4,14.2 0 1 1 1367.93,398.48" fill="none" stroke="#000" stroke-width="1.35"/>
<text x="1356.90" y="400.10" font-family="Liberation Serif" font-style="italic" font-size="32" stroke="#000" stroke-width="0.35" text-anchor="middle">a</text>
<path d="M1395.18,400.64 A12.4,14.2 0 1 1 1396.23,398.48" fill="none" stroke="#000" stroke-width="1.35"/>
<text x="1385.20" y="400.10" font-family="Liberation Serif" font-style="italic" font-size="32" stroke="#000" stroke-width="0.35" text-anchor="middle">a</text>
<path fill="#000" fill-rule="evenodd" d="M187.9,39.3 L190.3,39.3 L209.4,85.6 Q210.6,88.2 214.2,88.7 L214.2,89.9 L190.6,89.9 L190.6,88.7 Q195.9,88.4 195.9,86.6 L193.3,76.2 L174.5,76.2 L172.0,83.6 Q171.0,88.3 178.0,88.7 L178.0,89.9 L162.3,89.9 L162.3,88.7 Q166.6,88.2 168.6,84.4 Z M184.4,56.0 L191.8,73.1 L176.0,73.1 Z"/>
<text transform="translate(50.97,56.00) scale(1.0256,1.0583)" font-family="Liberation Serif" font-size="36" font-weight="normal" stroke="#fff" stroke-width="0.22">0.9</text>
<text transform="translate(50.97,300.70) scale(1.0256,1.0542)" font-family="Liberation Serif" font-size="36" font-weight="normal" stroke="#fff" stroke-width="0.22">0.6</text>
<text transform="translate(51.83,546.80) scale(0.9674,1.0458)" font-family="Liberation Serif" font-size="36" font-weight="normal" stroke="#fff" stroke-width="0.22">0.3</text>
<text transform="translate(50.97,791.50) scale(1.0256,1.0417)" font-family="Liberation Serif" font-size="36" font-weight="normal" stroke="#fff" stroke-width="0.22">0.0</text>
<text transform="translate(131.44,825.90) scale(0.9625,1.0583)" font-family="Liberation Serif" font-size="36" font-weight="normal" stroke="#fff" stroke-width="0.22">0</text>
<text transform="translate(301.57,834.60) scale(0.9507,1.0333)" font-family="Liberation Serif" font-size="36" font-weight="normal" stroke="#fff" stroke-width="0.22">1</text>
<text transform="translate(465.15,835.70) scale(1.0500,1.0875)" font-family="Liberation Serif" font-size="36" font-weight="normal" stroke="#fff" stroke-width="0.22">10</text>
<text transform="translate(628.96,835.70) scale(1.0120,1.0875)" font-family="Liberation Serif" font-size="36" font-weight="normal" stroke="#fff" stroke-width="0.22">100</text>
<text transform="translate(284.31,872.20) scale(0.9907,1.0600)" font-family="Liberation Serif" font-size="36.5" font-weight="normal" stroke="#fff" stroke-width="0.22">CLZ levels</text>
<text transform="translate(458.45,871.26) scale(1.0260,1.0424)" font-family="Liberation Serif" font-size="36.5" font-weight="normal" stroke="#fff" stroke-width="0.22">(μM)</text>
<text transform="translate(42.81,575.63) rotate(-90) scale(1.0296,1.0242)" font-family="Liberation Serif" font-size="36" font-weight="normal" stroke="#fff" stroke-width="0.22">L-glutamate release (μM)</text>
<text transform="translate(241.30,221.66) scale(1.0132,0.9571)" font-family="Liberation Serif" font-size="30.5" font-weight="normal" stroke="#fff" stroke-width="0.22">ACSF(control)</text>
<text transform="translate(240.29,256.56) scale(1.0136,0.9571)" font-family="Liberation Serif" font-size="30.5" font-weight="normal" stroke="#fff" stroke-width="0.22">MK-ACSF(K50)</text>
<text transform="translate(240.29,290.46) scale(1.0101,0.9571)" font-family="Liberation Serif" font-size="30.5" font-weight="normal" stroke="#fff" stroke-width="0.22">HK-ACSF(K100)</text>
<text transform="translate(240.28,325.26) scale(1.0229,0.9571)" font-family="Liberation Serif" font-size="30.5" font-weight="normal" stroke="#fff" stroke-width="0.22">HK-ACSF(GAP19)</text>
<text transform="translate(240.27,360.06) scale(1.0256,0.9571)" font-family="Liberation Serif" font-size="30.5" font-weight="normal" stroke="#fff" stroke-width="0.22">HK-ACSF(CBX)</text>
<text transform="translate(751.99,51.20) scale(1.0070,1.0500)" font-family="Liberation Serif" font-size="36" font-weight="normal" stroke="#fff" stroke-width="0.22">0.8</text>
<text transform="translate(751.58,235.20) scale(1.0233,1.0542)" font-family="Liberation Serif" font-size="36" font-weight="normal" stroke="#fff" stroke-width="0.22">0.6</text>
<text transform="translate(751.60,419.30) scale(1.0000,1.0542)" font-family="Liberation Serif" font-size="36" font-weight="normal" stroke="#fff" stroke-width="0.22">0.4</text>
<text transform="translate(751.55,603.20) scale(1.0476,1.0542)" font-family="Liberation Serif" font-size="36" font-weight="normal" stroke="#fff" stroke-width="0.22">0.2</text>
<text transform="translate(751.57,787.80) scale(1.0279,1.0667)" font-family="Liberation Serif" font-size="36" font-weight="normal" stroke="#fff" stroke-width="0.22">0.0</text>
<text transform="translate(832.24,831.90) scale(0.9562,1.0500)" font-family="Liberation Serif" font-size="36" font-weight="normal" stroke="#fff" stroke-width="0.22">0</text>
<text transform="translate(1002.12,831.90) scale(0.9660,1.0500)" font-family="Liberation Serif" font-size="36" font-weight="normal" stroke="#fff" stroke-width="0.22">1</text>
<text transform="translate(1164.26,832.50) scale(1.0469,1.0708)" font-family="Liberation Serif" font-size="36" font-weight="normal" stroke="#fff" stroke-width="0.22">10</text>
<text transform="translate(1328.17,832.50) scale(1.0100,1.0708)" font-family="Liberation Serif" font-size="36" font-weight="normal" stroke="#fff" stroke-width="0.22">100</text>
<text transform="translate(981.81,867.90) scale(0.9888,1.0680)" font-family="Liberation Serif" font-size="36.5" font-weight="normal" stroke="#fff" stroke-width="0.22">CLZ levels</text>
<text transform="translate(1155.64,866.26) scale(1.0315,1.0424)" font-family="Liberation Serif" font-size="36.5" font-weight="normal" stroke="#fff" stroke-width="0.22">(μM)</text>
<text transform="translate(742.06,518.03) rotate(-90) scale(1.0305,1.0424)" font-family="Liberation Serif" font-size="36" font-weight="normal" stroke="#fff" stroke-width="0.22">D-serine release (μM)</text>
<text transform="translate(863.11,88.60) scale(0.9935,1.0041)" font-family="Liberation Serif" font-size="73" font-weight="bold" stroke="#fff" stroke-width="0.22">B</text>
<text transform="translate(922.20,216.97) scale(1.0132,0.9714)" font-family="Liberation Serif" font-size="30.5" font-weight="normal" stroke="#fff" stroke-width="0.22">ACSF(control)</text>
<text transform="translate(921.18,251.87) scale(1.0184,0.9714)" font-family="Liberation Serif" font-size="30.5" font-weight="normal" stroke="#fff" stroke-width="0.22">MK-ACSF(K50)</text>
<text transform="translate(921.19,286.87) scale(1.0143,0.9714)" font-family="Liberation Serif" font-size="30.5" font-weight="normal" stroke="#fff" stroke-width="0.22">HK-ACSF(K100)</text>
<text transform="translate(921.18,321.87) scale(1.0217,0.9714)" font-family="Liberation Serif" font-size="30.5" font-weight="normal" stroke="#fff" stroke-width="0.22">HK-ACSF(GAP19)</text>
<text transform="translate(921.17,356.87) scale(1.0251,0.9714)" font-family="Liberation Serif" font-size="30.5" font-weight="normal" stroke="#fff" stroke-width="0.22">HK-ACSF(CBX)</text>
</svg></body></html>
